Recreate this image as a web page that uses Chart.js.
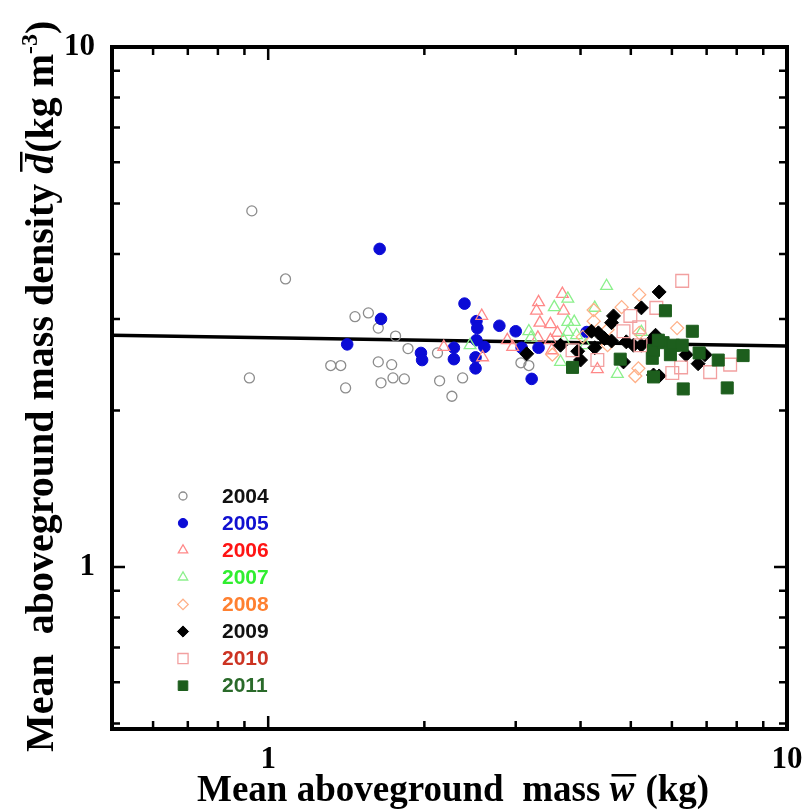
<!DOCTYPE html>
<html>
<head>
<meta charset="utf-8">
<script src="https://cdn.jsdelivr.net/npm/chart.js@4.4.0/dist/chart.umd.min.js"></script>
<style>
  html, body { margin: 0; padding: 0; background: #fff; }
</style>
</head>
<body>
<canvas id="densityChart" width="806" height="812"></canvas>
<script>
// mean aboveground mass w (kg) and mean mass density d (kg m^-3) per year
var w2004 = [0.93, 1.08, 0.92, 1.32, 1.38, 1.47, 1.56, 1.63, 1.76, 1.86, 1.63, 1.73, 1.41, 1.65, 1.74, 1.83, 2.12, 2.14, 2.26, 2.37, 3.07, 3.18];
var d2004 = [4.84, 3.58, 2.31, 2.44, 2.44, 3.03, 3.08, 2.88, 2.78, 2.63, 2.48, 2.45, 2.21, 2.26, 2.31, 2.30, 2.58, 2.28, 2.13, 2.31, 2.47, 2.44];

var w2005 = [1.64, 1.65, 1.42, 1.97, 1.98, 2.28, 2.28, 2.39, 2.52, 2.53, 2.79, 3.00, 2.52, 2.61, 2.51, 2.51, 3.22, 3.08, 3.32, 4.11];
var d2005 = [4.09, 3.00, 2.68, 2.58, 2.50, 2.64, 2.51, 3.21, 2.97, 2.88, 2.91, 2.84, 2.73, 2.65, 2.53, 2.41, 2.30, 2.64, 2.64, 2.83];

var w2006 = [2.18, 2.58, 3.32, 3.69, 3.29, 3.71, 3.34, 3.50, 3.61, 2.89, 2.96, 3.31, 3.50, 3.52, 4.31, 2.59];
var d2006 = [2.65, 3.04, 3.23, 3.35, 3.11, 3.11, 2.95, 2.93, 2.82, 2.73, 2.65, 2.76, 2.73, 2.61, 2.40, 2.53];

var w2007 = [4.49, 3.78, 3.56, 4.26, 3.78, 3.89, 3.18, 3.78, 3.93, 3.71, 2.45, 3.66, 4.71, 5.24, 4.09, 3.21];
var d2007 = [3.47, 3.28, 3.16, 3.15, 2.96, 2.96, 2.84, 2.83, 2.79, 2.73, 2.67, 2.48, 2.35, 2.83, 2.67, 2.76];

var w2008 = [5.19, 4.80, 4.24, 4.24, 4.51, 6.14, 5.19, 3.53, 5.17, 5.10, 4.04, 4.51, 5.58];
var d2008 = [3.34, 3.16, 3.12, 2.97, 2.86, 2.88, 2.82, 2.56, 2.41, 2.33, 2.77, 2.67, 2.73];

var w2009 = [5.67, 5.24, 4.63, 4.59, 4.20, 4.33, 4.45, 4.59, 3.66, 3.95, 4.00, 3.15, 4.26, 4.90, 5.06, 5.24, 5.58, 5.43, 6.39, 6.74, 6.95, 5.67, 5.53, 4.84];
var d2009 = [3.38, 3.15, 3.04, 2.95, 2.84, 2.82, 2.75, 2.72, 2.67, 2.60, 2.50, 2.57, 2.64, 2.71, 2.67, 2.67, 2.79, 2.70, 2.56, 2.46, 2.56, 2.33, 2.34, 2.48];

var w2010 = [6.28, 4.99, 5.19, 5.60, 4.84, 7.77, 7.11, 6.25, 6.01, 4.31, 3.86, 5.22];
var d2010 = [3.55, 3.04, 2.89, 3.15, 2.84, 2.45, 2.37, 2.42, 2.36, 2.50, 2.61, 2.67];

var w2011 = [5.83, 6.57, 3.86, 4.77, 5.50, 5.53, 5.77, 6.04, 6.28, 5.96, 6.77, 7.37, 8.23, 5.53, 6.31, 7.67, 5.65];
var d2011 = [3.11, 2.84, 2.42, 2.51, 2.52, 2.61, 2.70, 2.67, 2.67, 2.56, 2.58, 2.50, 2.55, 2.32, 2.20, 2.21, 2.73];

// fitted power law, end points
var fitW = [0.5, 10];
var fitD = [2.79, 2.66];

var years = ['2004', '2005', '2006', '2007', '2008', '2009', '2010', '2011'];
var xTickValues = [0.5, 0.6, 0.7, 0.8, 0.9, 1, 2, 3, 4, 5, 6, 7, 8, 9, 10];
var yTickValues = [0.5, 0.6, 0.7, 0.8, 0.9, 1, 2, 3, 4, 5, 6, 7, 8, 9, 10];
var tickLabels = [1, 10];

function pts(ws, ds) {
  return ws.map(function (w, i) { return { x: w, y: ds[i] }; });
}

var none = 'rgba(0,0,0,0)';
var styles = [
  { data: pts(w2004, d2004), pointStyle: 'circle',   radius: 5,   fill: none,      stroke: '#8c8c8c', bw: 1.3, text: '#111111' },
  { data: pts(w2005, d2005), pointStyle: 'circle',   radius: 5.8, fill: '#0b0bd6', stroke: '#0b0bd6', bw: 1,   text: '#1010d0' },
  { data: pts(w2006, d2006), pointStyle: 'triangle', radius: 6.8, fill: none,      stroke: '#ff8888', bw: 1.3, text: '#ff1414' },
  { data: pts(w2007, d2007), pointStyle: 'triangle', radius: 6.8, fill: none,      stroke: '#8cf08c', bw: 1.3, text: '#30ee30' },
  { data: pts(w2008, d2008), pointStyle: 'rectRot',  radius: 6.5, fill: none,      stroke: '#ffb088', bw: 1.3, text: '#ff8030' },
  { data: pts(w2009, d2009), pointStyle: 'rectRot',  radius: 7,   fill: '#000000', stroke: '#000000', bw: 1,   text: '#111111' },
  { data: pts(w2010, d2010), pointStyle: 'rect',     radius: 9,   fill: none,      stroke: '#f2a0a0', bw: 1.3, text: '#cc3322' },
  { data: pts(w2011, d2011), pointStyle: 'rect',     radius: 8.5, fill: '#1d5e1d', stroke: '#1d5e1d', bw: 1,   text: '#2a6a2a' }
];

var datasets = [{
  type: 'line',
  label: 'fit',
  data: pts(fitW, fitD),
  borderColor: '#000',
  borderWidth: 3.5,
  pointRadius: 0,
  fill: false,
  order: 20
}];
styles.forEach(function (s, i) {
  datasets.push({
    type: 'scatter',
    label: years[i],
    data: s.data,
    pointStyle: s.pointStyle,
    pointRadius: s.radius,
    backgroundColor: s.fill,
    borderColor: s.stroke,
    borderWidth: s.bw,
    order: 10 - i
  });
});

var serif = '"Liberation Serif", "Times New Roman", serif';

// frame with inward ticks on all four sides
var frame = {
  id: 'frame',
  afterDatasetsDraw: function (chart) {
    var ctx = chart.ctx, a = chart.chartArea;
    var xs = chart.scales.x, ys = chart.scales.y;
    ctx.save();
    ctx.strokeStyle = '#000';
    ctx.lineWidth = 2.5;
    xTickValues.forEach(function (v) {
      var px = xs.getPixelForValue(v);
      var len = (v === 1 || v === 10) ? 13 : 8;
      ctx.beginPath();
      ctx.moveTo(px, a.bottom); ctx.lineTo(px, a.bottom - len);
      ctx.moveTo(px, a.top); ctx.lineTo(px, a.top + len);
      ctx.stroke();
    });
    yTickValues.forEach(function (v) {
      var py = ys.getPixelForValue(v);
      if (py > a.bottom) return;
      var len = (v === 1 || v === 10) ? 13 : 8;
      ctx.beginPath();
      ctx.moveTo(a.left, py); ctx.lineTo(a.left + len, py);
      ctx.moveTo(a.right, py); ctx.lineTo(a.right - len, py);
      ctx.stroke();
    });
    ctx.lineWidth = 4;
    ctx.strokeRect(a.left, a.top, a.right - a.left, a.bottom - a.top);
    ctx.restore();
  }
};

// year key in the lower left of the plot
var yearKey = {
  id: 'yearKey',
  afterDraw: function (chart) {
    var ctx = chart.ctx;
    ctx.save();
    ctx.font = 'bold 21px "Liberation Sans", Arial, sans-serif';
    ctx.textBaseline = 'middle';
    ctx.textAlign = 'left';
    styles.forEach(function (s, i) {
      var y = 496 + i * 27.1;
      ctx.fillStyle = s.fill;
      ctx.strokeStyle = s.stroke;
      ctx.lineWidth = s.bw;
      Chart.helpers.drawPoint(ctx, {
        pointStyle: s.pointStyle,
        radius: s.radius * 0.8,
        rotation: 0,
        borderWidth: s.bw
      }, 183, y);
      ctx.fillStyle = s.text;
      ctx.fillText(years[i], 222, y + 1);
    });
    ctx.restore();
  }
};

// axis titles with overlined italic symbols
function drawRich(ctx, parts, x, y) {
  parts.forEach(function (p) {
    ctx.font = p.font;
    var dy = p.sup || 0;
    ctx.fillText(p.t, x, y + dy);
    var wdt = ctx.measureText(p.t).width;
    if (p.bar) {
      ctx.fillRect(x + 2, y - p.bar, wdt, 2.5);
    }
    x += wdt + (p.gap || 0);
  });
}

var titles = {
  id: 'titles',
  afterDraw: function (chart) {
    var ctx = chart.ctx;
    ctx.save();
    ctx.fillStyle = '#000';
    ctx.textBaseline = 'alphabetic';
    ctx.textAlign = 'left';
    drawRich(ctx, [
      { t: 'Mean aboveground  mass ', font: 'bold 37px ' + serif },
      { t: 'w', font: 'italic bold 37px ' + serif, bar: 27, gap: 2 },
      { t: ' (kg)', font: 'bold 37px ' + serif }
    ], 197, 801);

    ctx.translate(53, 752);
    ctx.rotate(-Math.PI / 2);
    drawRich(ctx, [
      { t: 'Mean  aboveground mass density ', font: 'bold 40px ' + serif },
      { t: 'd', font: 'italic bold 40px ' + serif, bar: 33, gap: 1 },
      { t: '(kg m', font: 'bold 40px ' + serif },
      { t: '-3', font: 'bold 24px ' + serif, sup: -16 },
      { t: ')', font: 'bold 40px ' + serif }
    ], 0, 0);
    ctx.restore();
  }
};

var ctx = document.getElementById('densityChart').getContext('2d');
var densityChart = new Chart(ctx, {
  data: { datasets: datasets },
  options: {
    responsive: false,
    animation: false,
    layout: { padding: { top: 47, right: 19, left: 0, bottom: 0 } },
    plugins: {
      legend: { display: false },
      tooltip: { enabled: false }
    },
    scales: {
      x: {
        type: 'logarithmic',
        min: 0.5,
        max: 10,
        afterFit: function (scale) { scale.height = 83; },
        afterBuildTicks: function (scale) {
          scale.ticks = tickLabels.map(function (v) { return { value: v }; });
        },
        grid: { display: false, drawTicks: false },
        border: { display: false },
        ticks: {
          padding: 0,
          color: '#000',
          maxRotation: 0,
          font: { family: serif, size: 31, weight: 'bold', lineHeight: '62px' },
          callback: function (v) { return String(v); }
        }
      },
      y: {
        type: 'logarithmic',
        min: 0.488,
        max: 10,
        afterFit: function (scale) { scale.width = 112; },
        afterBuildTicks: function (scale) {
          scale.ticks = tickLabels.map(function (v) { return { value: v }; });
        },
        grid: { display: false, drawTicks: false },
        border: { display: false },
        ticks: {
          padding: 17,
          color: '#000',
          font: { family: serif, size: 31, weight: 'bold' },
          callback: function (v) { return String(v); }
        }
      }
    }
  },
  plugins: [frame, yearKey, titles]
});
</script>
</body>
</html>
